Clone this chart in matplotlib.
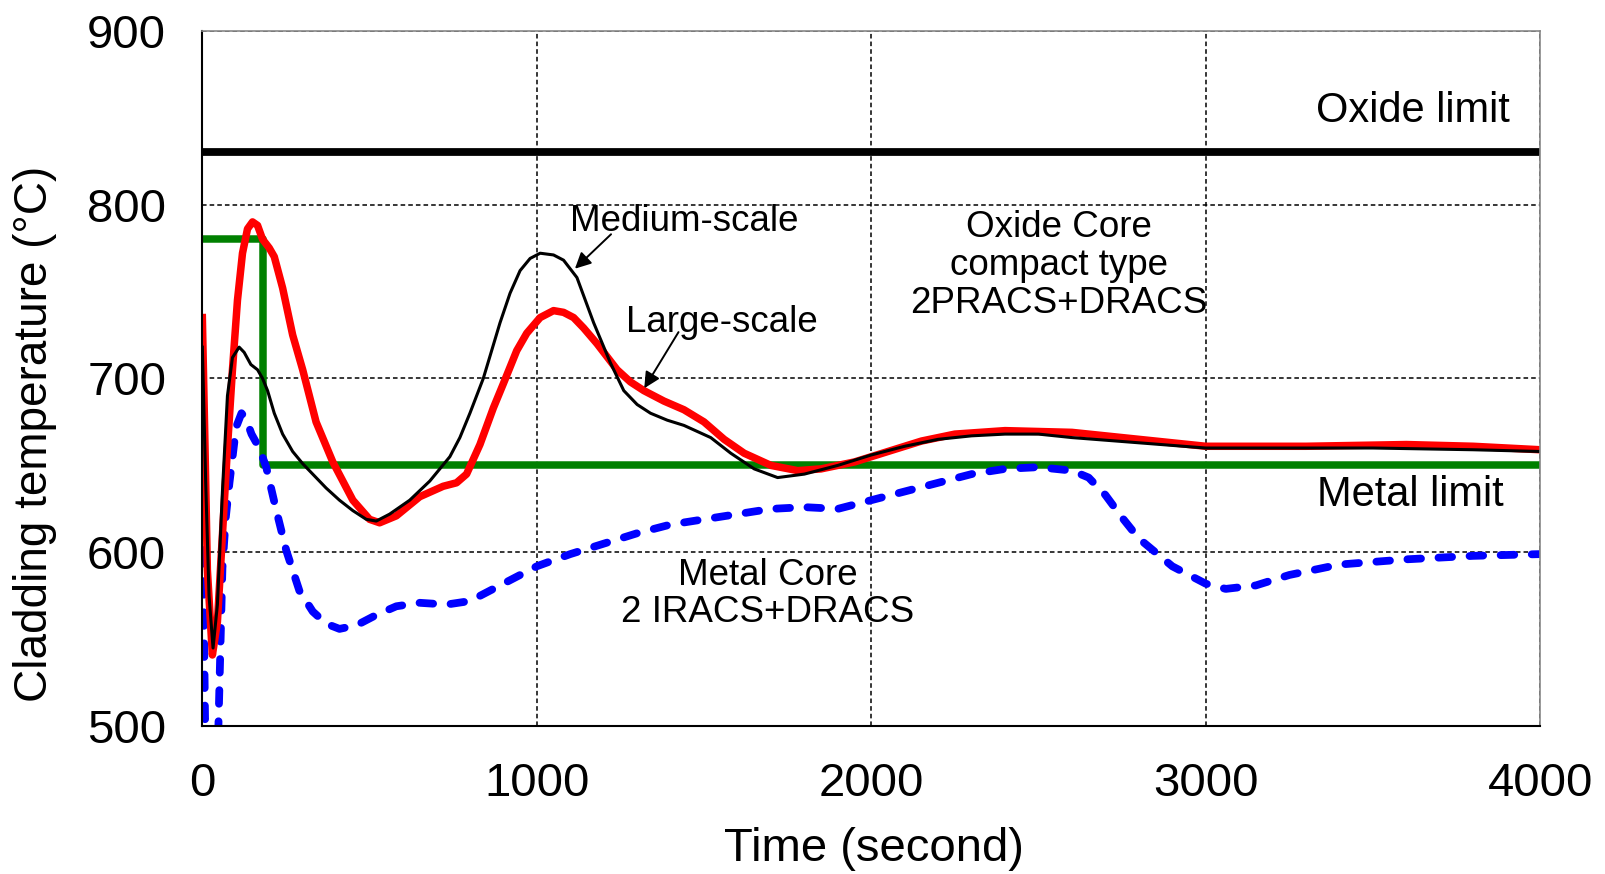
import numpy as np
import matplotlib
matplotlib.use('Agg')
import matplotlib.pyplot as plt

plt.rcParams['font.family'] = ['Liberation Sans', 'DejaVu Sans']

# Large-scale (oxide core, red)
t_large = [0, 8, 15, 30, 45, 60, 75, 90, 105, 120, 135, 150, 165, 180, 200, 215, 240, 270, 300,
           340, 390, 450, 500, 530, 580, 650, 720, 760, 790, 830, 870, 900, 940, 970, 1010, 1050,
           1080, 1110, 1140, 1180, 1240, 1280, 1320, 1380, 1440, 1500, 1560, 1620, 1700, 1780,
           1850, 1950, 2050, 2150, 2250, 2400, 2600, 2800, 3000, 3300, 3600, 3800, 4000]
T_large = [735, 660, 590, 541, 560, 610, 660, 705, 745, 772, 786, 790, 788, 780, 775, 770, 752, 725, 705,
           675, 652, 630, 619, 617, 621, 632, 638, 640, 645, 662, 683, 697, 716, 726, 735, 739,
           738, 735, 729, 720, 705, 698, 693, 687, 682, 675, 665, 657, 650, 647,
           648, 652, 658, 664, 668, 670, 669, 665, 661, 661, 662, 661, 659]

# Medium-scale (oxide core, black)
t_medium = [0, 10, 20, 32, 45, 60, 75, 90, 110, 125, 145, 165, 180, 195, 215, 240, 270, 300, 330, 370,
            410, 450, 490, 520, 560, 620, 680, 740, 770, 800, 840, 890, 920, 950, 980, 1010, 1050,
            1080, 1120, 1170, 1220, 1260, 1300, 1340, 1390, 1440, 1520, 1580, 1650, 1720, 1800,
            1900, 2000, 2100, 2200, 2300, 2400, 2500, 2600, 2800, 3000, 3200, 3500, 3800, 4000]
T_medium = [718, 640, 575, 545, 570, 635, 690, 712, 718, 715, 708, 705, 700, 693, 680, 668, 658, 651, 645, 637,
            630, 624, 619, 618, 622, 630, 641, 655, 666, 680, 700, 732, 749, 762, 769, 772, 771,
            768, 758, 732, 709, 693, 685, 680, 676, 673, 666, 657, 648, 643, 645,
            650, 656, 661, 665, 667, 668, 668, 666, 663, 660, 660, 660, 659, 658]

# Metal core (blue dashed)
t_metal = [0, 4, 8, 20, 40, 48, 60, 70, 81, 101, 117, 130, 147, 170, 191, 220, 251, 290, 330, 370,
           410, 460, 520, 580, 650, 730, 800, 880, 950, 1000, 1100, 1200, 1300, 1400, 1500, 1600,
           1700, 1800, 1900, 2000, 2100, 2200, 2300, 2400, 2500, 2600, 2650, 2700, 2750, 2800,
           2900, 3000, 3060, 3150, 3250, 3400, 3600, 3800, 4000]
T_metal = [655, 570, 505, 450, 480, 500, 591, 620, 640, 672, 680, 677, 668, 660, 649, 625, 601, 578, 566, 559,
           556, 558, 564, 569, 571, 570, 572, 580, 587, 592, 599, 605, 611, 616, 619, 622,
           625, 626, 625, 630, 635, 640, 645, 648, 649, 647, 643, 633, 620, 608,
           592, 582, 579, 581, 587, 593, 596, 598, 599]

# Metal limit step and oxide limit
t_metal_limit = [0, 180, 180, 4000]
T_metal_limit = [780, 780, 650, 650]
oxide_limit = 830

fig = plt.figure(figsize=(16.06, 8.74), dpi=100)
ax = fig.add_axes([0.126, 0.169, 0.833, 0.796])

ax.plot([0, 4000], [oxide_limit, oxide_limit], color='black', lw=5.6, solid_capstyle='butt')
ax.plot(t_metal_limit, T_metal_limit, color='#008000', lw=5.4)
ax.plot(t_metal, T_metal, color='#0000ff', lw=5.6, dashes=(1.75, 2.25), dash_capstyle='round')
ax.plot(t_large, T_large, color='#ff0000', lw=5.4, solid_joinstyle='round')
ax.plot(t_medium, T_medium, color='black', lw=2.2, solid_joinstyle='round')

ax.set_xlim(0, 4000)
ax.set_ylim(500, 900)
ax.set_xticks([0, 1000, 2000, 3000, 4000])
ax.set_yticks([500, 600, 700, 800, 900])
ax.tick_params(axis='both', length=0, labelsize=34, pad=26)
ax.grid(True, color='black', ls=(0, (3, 2)), lw=1.1)

for s in ['top', 'right']:
    ax.spines[s].set_color('#888888')
    ax.spines[s].set_linewidth(1.2)
for s in ['left', 'bottom']:
    ax.spines[s].set_color('black')
    ax.spines[s].set_linewidth(1.5)

ax.set_xlabel('Time (second)', fontsize=34)
ax.set_ylabel('Cladding temperature (°C)', fontsize=33)
ax.xaxis.label.set_va('center')
ax.yaxis.label.set_va('center')
ax.xaxis.set_label_coords(0.502, -0.176)
ax.yaxis.set_label_coords(-0.125, 0.42)

ax.text(3910, 854, 'Oxide limit', fontsize=30, ha='right', va='center')
ax.text(3890, 633, 'Metal limit', fontsize=30, ha='right', va='center')
ax.text(1440, 790, 'Medium-scale', fontsize=26.5, ha='center', va='center')
ax.text(1554, 732, 'Large-scale', fontsize=26.5, ha='center', va='center')
ax.text(2560, 765, 'Oxide Core\ncompact type\n2PRACS+DRACS', fontsize=26.5, ha='center', va='center',
        linespacing=1.1)
ax.text(1690, 576, 'Metal Core\n2 IRACS+DRACS', fontsize=26.5, ha='center', va='center',
        linespacing=1.1)

arrow = dict(arrowstyle='-|>', color='black', lw=1.4, mutation_scale=24)
ax.annotate('', xy=(1108, 762), xytext=(1228, 784), arrowprops=arrow)
ax.annotate('', xy=(1317, 693), xytext=(1428, 728), arrowprops=arrow)

fig.savefig('out.png', dpi=100)
